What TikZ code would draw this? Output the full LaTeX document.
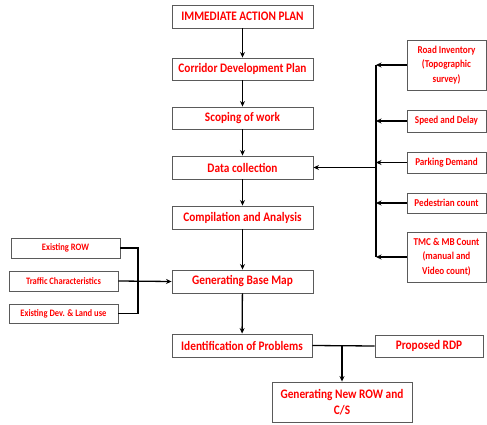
\documentclass[tikz,border=0pt]{standalone}
\usepackage{fontspec}
\setmainfont{Carlito}[FakeStretch=0.87]
\usetikzlibrary{arrows.meta}
\definecolor{txtred}{RGB}{255,0,0}
\definecolor{boxgray}{RGB}{90,90,90}
\tikzset{
  box/.style={draw=boxgray, line width=0.9pt, fill=white, inner sep=1pt, align=center,
    text=txtred, font=\bfseries},
  mainbox/.style={box, minimum width=141pt, font=\fontsize{13}{16}\bfseries},
  sidebox/.style={box, minimum width=79pt, font=\fontsize{10.5}{14.5}\bfseries},
  leftbox/.style={box, minimum width=109pt, font=\fontsize{9.8}{12}\bfseries},
  conn/.style={line width=1.3pt, black},
  arr/.style={conn, -{Stealth[length=5.5pt,width=5pt]}},
}
\begin{document}
\begin{tikzpicture}[x=1pt,y=-1pt]
\useasboundingbox (0,0) rectangle (487,425);
% main column
\node[mainbox, minimum height=23pt] (iap) at (242.5,16.5) {IMMEDIATE ACTION PLAN};
\node[mainbox, minimum height=22pt] (cdp) at (242.5,69) {Corridor Development Plan};
\node[mainbox, minimum height=22pt] (sow) at (242.5,118) {Scoping of work};
\node[mainbox, minimum height=23pt] (dc) at (242.5,167.5) {Data collection};
\node[mainbox, minimum height=23pt] (ca) at (242.5,217.5) {Compilation and Analysis};
\node[mainbox, minimum height=23pt] (gbm) at (242.5,281.5) {Generating Base Map};
\node[mainbox, minimum width=140pt, minimum height=23pt] (iop) at (242,345.5) {Identification of Problems};
\node[mainbox, minimum width=108pt, minimum height=22pt] (rdp) at (429,346) {Proposed RDP};
\node[mainbox, minimum width=140pt, minimum height=40pt] (nrow) at (342,402) {Generating New ROW and\\C/S};
% right boxes
\node[sidebox, minimum height=50pt] (ri) at (446.5,65) {Road Inventory\\(Topographic\\survey)};
\node[sidebox, minimum height=22pt] (sd) at (446.5,121) {Speed and Delay};
\node[sidebox, minimum height=21pt] (pd) at (446.5,162.5) {Parking Demand};
\node[sidebox, minimum height=20pt] (pc) at (446.5,203) {Pedestrian count};
\node[sidebox, minimum height=50pt] (tmc) at (446.5,257) {TMC \& MB Count\\(manual and\\Video count)};
% left boxes
\node[leftbox, minimum height=20pt] (erow) at (65.5,248) {Existing ROW};
\node[leftbox, minimum height=20pt] (tc) at (63.5,281) {Traffic Characteristics};
\node[leftbox, minimum height=19pt] (edl) at (63.5,313.5) {Existing Dev. \& Land use};
% main arrows
\draw[arr] (iap) -- (cdp);
\draw[arr] (cdp) -- (sow);
\draw[arr] (sow) -- (dc);
\draw[arr] (dc) -- (ca);
\draw[arr] (ca) -- (gbm);
\draw[arr] (gbm) -- (iop);
% right bus
\coordinate (bt) at (376,65);
\coordinate (bb) at (376,257);
\coordinate (bd) at (376,167.5);
\draw[conn] (bt) -- (bb);
\draw[arr] (ri.west) -- (ri.west -| bt);
\draw[arr] (sd.west) -- (sd.west -| bt);
\draw[arr] (pd.west) -- (pd.west -| bt);
\draw[arr] (pc.west) -- (pc.west -| bt);
\draw[arr] (tmc.west) -- (tmc.west -| bt);
\draw[arr] (bd) -- (dc.east);
% left bus
\coordinate (lb) at (138,281);
\draw[conn] (erow.east) -| (lb) |- (edl.east);
\draw[arr] (tc.east) -- (gbm.west);
% bottom
\coordinate (j) at (342,346);
\draw[conn] (iop.east) -- (rdp.west);
\draw[arr] (j) -- (nrow.north);
\end{tikzpicture}
\end{document}
